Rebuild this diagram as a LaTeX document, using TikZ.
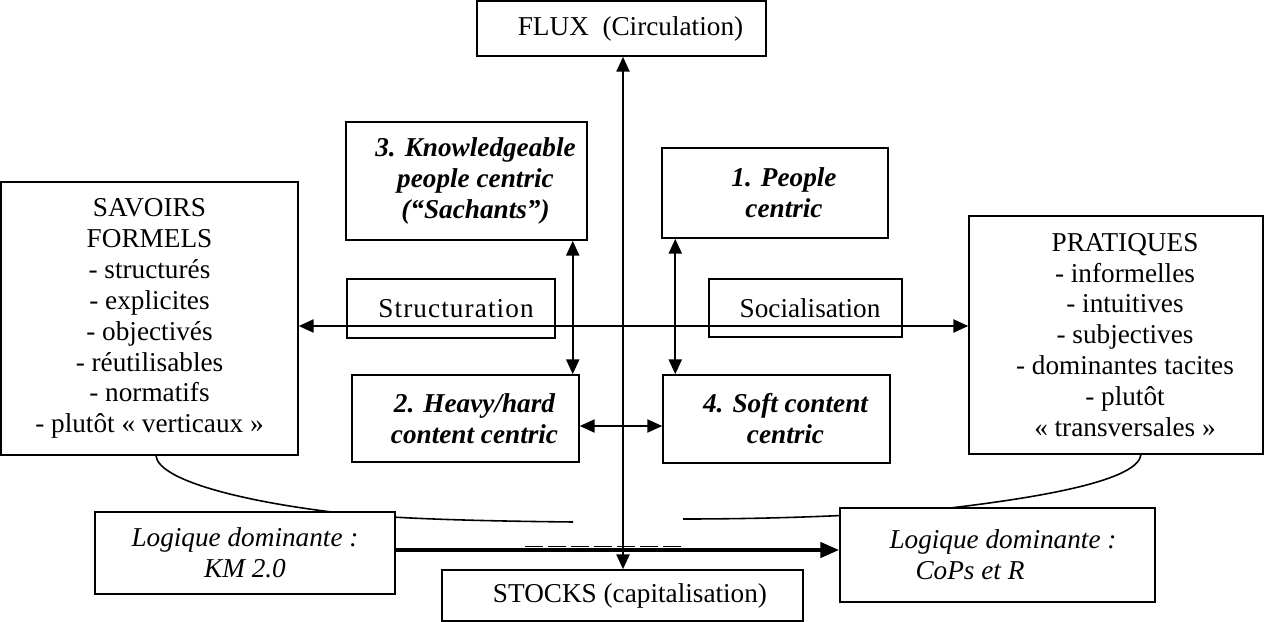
\documentclass[tikz,border=0pt]{standalone}
\usepackage{fontspec}
\setmainfont{Liberation Serif}
\usetikzlibrary{arrows.meta}
\newcommand{\sz}{\fontsize{15.5}{17.6}\selectfont}
\newcommand{\pd}{\hspace*{0.36cm}}

\begin{document}
\begin{tikzpicture}[x=0.02cm, y=-0.02cm, every node/.style={font=\sz},
		>={Triangle[length=0.3cm, width=0.26cm]},
		box/.style={draw, line width=0.85pt, fill=white, inner sep=0pt, align=center},
		bi/.style={box, font=\sz\bfseries\itshape},
		axis/.style={line width=1.4pt},
		link/.style={line width=1.3pt},
		brace/.style={line width=0.9pt}]
	\useasboundingbox (0,0) rectangle (1265,622);
	
	\coordinate (ax) at (623,326);
	
	\node[box, minimum width=5.78cm, minimum height=1.10cm] (flux) at (621.5,28.5) {\pd FLUX\ \ (Circulation)};
	\node[box, minimum width=7.22cm, minimum height=1.02cm] (stocks) at (622.5,595.5) {\hspace*{0.3cm}STOCKS (capitalisation)};
	
	\node[bi, minimum width=4.82cm, minimum height=2.36cm] (know) at (466.5,181) {\pd 3. Knowledgeable\\\pd people centric\\\pd (“Sachants”)};
	\node[bi, minimum width=4.52cm, minimum height=1.80cm] (people) at (775,193) {\pd 1. People\\\pd centric};
	\node[bi, minimum width=4.54cm, minimum height=1.74cm] (heavy) at (465.5,418.5) {\pd 2. Heavy/hard\\\pd content centric};
	\node[bi, minimum width=4.54cm, minimum height=1.76cm] (soft) at (776.5,419) {\pd 4. Soft content\\\pd centric};
	
	\node[box, minimum width=4.16cm, minimum height=1.18cm] (struct) at (451,308.5) {\hspace*{0.2cm}\addfontfeature{LetterSpace=4}Structuration};
	\node[box, minimum width=3.86cm, minimum height=1.16cm] (social) at (805.5,308) {\hspace*{0.18cm}Socialisation};
	
	\node[box, minimum width=5.94cm, minimum height=5.46cm] (savoirs) at (149.5,318.5) {SAVOIRS\\FORMELS\\- structurés\\- explicites\\- objectivés\\- réutilisables\\- normatifs\\- plutôt «~verticaux~»};
	\node[box, minimum width=5.88cm, minimum height=4.76cm] (prat) at (1116,335) {\pd PRATIQUES\\\pd - informelles\\\pd - intuitives\\\pd - subjectives\\\pd - dominantes tacites\\\pd - plutôt\\\pd «~transversales~»};
	
	% accolades vers les logiques dominantes
	\draw[brace] ([xshift=0.13cm]savoirs.south) .. controls (158,478) and (230,500) .. (340,513) .. controls (400,519) and (480,521) .. (573,522);
	\draw[brace] ([xshift=0.5cm]prat.south) .. controls (1138,478) and (1060,495) .. (950,508) .. controls (880,515) and (780,519) .. (683,519);
	
	\node[box, font=\sz\itshape, minimum width=6.00cm, minimum height=1.64cm] (km) at (245,553) {Logique dominante :\\KM 2.0};
	\node[box, font=\sz\itshape, align=left, minimum width=6.30cm, minimum height=1.88cm] (cops) at (997.5,555) {\hspace*{0.22cm}Logique dominante :\\\hspace*{0.74cm}CoPs et R};
	
	% axes
	\draw[axis, <->] (flux.south -| ax) -- (stocks.north -| ax);
	\draw[axis, <->] (savoirs.east |- ax) -- (prat.west |- ax);
	
	\coordinate (k) at ([xshift=-0.3cm]know.south east);
	\coordinate (p) at ([xshift=0.28cm]people.south west);
	\coordinate (h) at ([yshift=-0.15cm]heavy.east);
	\draw[link, <->] (k) -- (k |- heavy.north);
	\draw[link, <->] (p) -- (p |- soft.north);
	\draw[link, <->] (h) -- (h -| soft.west);
	
	\coordinate (m) at ([yshift=0.06cm]km.east);
	\draw[line width=2.5pt, -{Triangle[length=0.38cm, width=0.3cm]}] (m) -- (m -| cops.west);
	\draw[line width=1pt, dash pattern=on 0.36cm off 0.1cm] (525,546.5) -- (682,546.5);
\end{tikzpicture}
\end{document}
